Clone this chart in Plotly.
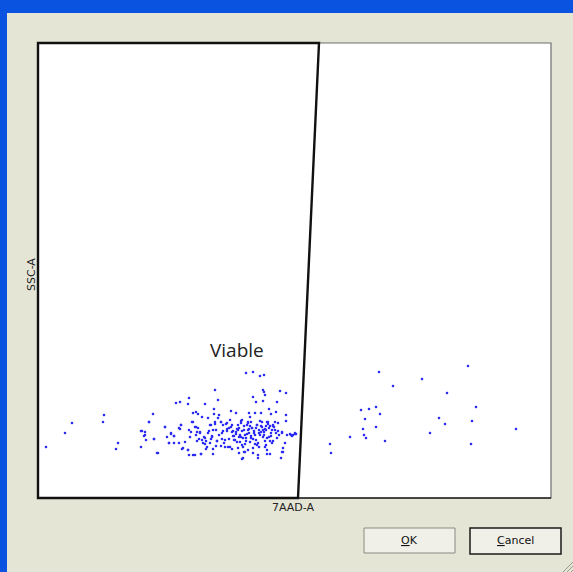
import plotly.graph_objects as go

# ---- data (in instrument display channels) ----
aad_viable = [46, 65, 72, 104, 103, 118, 116, 141, 145, 144, 146, 141, 149, 153, 154, 158, 165, 167, 169, 171,
              174, 174, 176, 180, 180, 181, 179, 182, 185, 188, 189, 188, 189, 191, 192, 193, 196, 196, 196, 197,
              195, 198, 200, 201, 202, 204, 205, 205, 206, 208, 209, 210, 211, 212, 213, 213, 215, 214, 214, 215,
              216, 217, 218, 219, 219, 221, 221, 222, 223, 225, 225, 227, 227, 229, 230, 231, 232, 232, 233, 234,
              236, 237, 238, 238, 239, 241, 241, 242, 242, 243, 244, 245, 246, 246, 247, 248, 248, 249, 250, 251,
              251, 252, 253, 253, 253, 254, 255, 256, 256, 257, 258, 259, 260, 260, 261, 262, 263, 263, 263, 264,
              264, 265, 265, 266, 267, 267, 268, 269, 269, 270, 271, 272, 273, 275, 276, 277, 278, 278, 280, 281,
              282, 283, 285, 286, 286, 287, 291, 295, 292, 295, 296,
              221, 223, 226, 227, 230, 232, 233, 235, 237, 238, 240, 242, 242, 244, 246, 248, 249, 250, 252, 253,
              255, 257, 258, 259, 261, 263, 264, 265, 267, 267, 269, 271, 272, 273, 275, 277, 279, 282, 283, 290,
              293, 286, 222, 228, 239, 245, 258, 270, 243, 282,
              149, 142, 145, 154, 165, 171, 174, 169, 157, 179, 181, 189, 193, 195, 197, 198, 200, 190, 188, 193,
              202, 203, 205, 207, 208, 210, 212, 213, 215, 217, 218, 183, 201,
              236, 239, 241, 244, 247, 249, 251, 254, 256, 259, 262, 264, 266, 268, 271, 274, 276, 234, 240, 245,
              250, 253, 257, 261, 265, 270, 273, 231, 236, 243, 248, 255, 260, 266, 224, 229, 211, 206, 216, 199]
ssc_viable = [447, 433, 423, 415, 422, 443, 449, 431, 432, 436, 440, 447, 422, 414, 439, 453, 427, 437, 443, 434,
              436, 443, 403, 402, 429, 425, 443, 449, 442, 404, 398, 450, 455, 432, 422, 413, 412, 427, 435, 441,
              455, 414, 432, 454, 417, 437, 404, 444, 449, 418, 431, 443, 425, 436, 454, 449, 390, 409, 414, 424,
              430, 441, 400, 415, 435, 422, 446, 433, 425, 447, 440, 423, 431, 439, 447, 411, 449, 425, 431, 436,
              413, 442, 448, 430, 437, 423, 421, 459, 431, 447, 452, 435, 373, 441, 425, 430, 450, 413, 417, 438,
              422, 428, 372, 397, 453, 433, 413, 402, 440, 425, 458, 447, 435, 376, 413, 422, 390, 401, 430, 375,
              392, 395, 441, 426, 450, 454, 422, 409, 437, 426, 414, 430, 441, 422, 412, 402, 431, 423, 391, 458,
              433, 452, 443, 393, 415, 435, 435, 434, 436, 433, 434,
              422, 431, 424, 429, 420, 432, 436, 440, 429, 425, 435, 420, 445, 430, 438, 423, 433, 442, 428, 448,
              435, 425, 443, 430, 426, 437, 432, 447, 422, 438, 428, 433, 443, 425, 430, 438, 435, 432, 448, 434,
              435, 421, 439, 447, 453, 452, 455, 454, 458, 452,
              422, 431, 435, 439, 427, 433, 436, 443, 453, 428, 425, 430, 422, 427, 432, 428, 433, 437, 450, 455,
              440, 443, 438, 447, 433, 425, 437, 430, 422, 441, 418, 448, 454,
              432, 428, 437, 426, 434, 429, 436, 431, 428, 433, 427, 435, 430, 424, 436, 427, 433, 440, 442, 444,
              426, 439, 445, 432, 429, 441, 426, 427, 434, 438, 422, 444, 421, 445, 443, 428, 439, 441, 446, 439]

aad_dead = [379, 422, 468, 393, 447, 361, 369, 376, 380, 365, 476, 439, 445, 472, 363, 376, 516, 430, 350, 364,
            366, 385, 330, 471, 331]
ssc_dead = [372, 379, 366, 386, 393, 410, 409, 407, 414, 419, 407, 418, 424, 421, 429, 427, 429, 433, 437, 435,
            438, 441, 444, 444, 453]

# gate vertices (7AAD-A, SSC-A)
gate_x = [38, 319, 298, 38]
gate_y = [43, 43, 498, 498]

gate_name = "Viable"
x_label = "7AAD-A"
y_label = "SSC-A"

# ---- figure ----
W, H = 573, 572
ML, MR, MT, MB = 38, 22, 43, 74
XR = [38, 551]
YR = [498, 43]


def px(x):
    return (x - ML) / (W - ML - MR)


def py(y):
    return (H - MB - y) / (H - MT - MB)


def dx(v):
    return (v - XR[0]) / (XR[1] - XR[0])


def dy(v):
    return (v - YR[0]) / (YR[1] - YR[0])


fig = go.Figure()
fig.add_trace(go.Scatter(x=aad_viable + aad_dead, y=ssc_viable + ssc_dead, mode="markers",
                         marker=dict(symbol="square", size=2.3, color="#2b2bf5", line=dict(width=0)),
                         hoverinfo="skip", showlegend=False))

shapes = []
# window chrome
shapes.append(dict(type="rect", xref="paper", yref="paper", x0=px(0), x1=px(W), y0=py(0), y1=py(13),
                   fillcolor="#0a52e0", line=dict(width=0), layer="below"))
shapes.append(dict(type="rect", xref="paper", yref="paper", x0=px(0), x1=px(7), y0=py(0), y1=py(H),
                   fillcolor="#0a52e0", line=dict(width=0), layer="below"))
# plot frame
shapes.append(dict(type="rect", xref="paper", yref="paper", x0=0, x1=1, y0=0, y1=1,
                   line=dict(color="#6e6e6e", width=1.2), fillcolor="rgba(0,0,0,0)"))
shapes.append(dict(type="line", xref="paper", yref="paper", x0=dx(298), x1=1, y0=0, y1=0,
                   line=dict(color="#222222", width=1.4)))
# gate polygon
path = "M " + " L ".join(f"{dx(a):.5f},{dy(b):.5f}" for a, b in zip(gate_x, gate_y)) + " Z"
shapes.append(dict(type="path", xref="paper", yref="paper", path=path,
                   line=dict(color="#111111", width=2.4)))
# buttons
shapes.append(dict(type="rect", xref="paper", yref="paper", x0=px(364), x1=px(455), y0=py(553), y1=py(528),
                   fillcolor="#f0f0e8", line=dict(color="#8a8a84", width=1)))
shapes.append(dict(type="rect", xref="paper", yref="paper", x0=px(470), x1=px(561), y0=py(554), y1=py(528),
                   fillcolor="#f0f0e8", line=dict(color="#1a1a1a", width=1.5)))
# resize grip
for k in (2, 6, 10):
    shapes.append(dict(type="line", xref="paper", yref="paper", x0=px(573), y0=py(572 - k),
                       x1=px(573 - k), y1=py(572), line=dict(color="#9a9a8c", width=1)))

annotations = [
    dict(text=gate_name, x=px(237), y=py(350), xref="paper", yref="paper", showarrow=False,
         font=dict(family="Open Sans", size=19, color="#222222"), xanchor="center", yanchor="middle"),
    dict(text=x_label, x=px(293), y=py(508), xref="paper", yref="paper", showarrow=False,
         font=dict(family="DejaVu Sans", size=11, color="#222222"), xanchor="center", yanchor="middle"),
    dict(text=y_label, x=px(31), y=py(275), xref="paper", yref="paper", showarrow=False, textangle=-90,
         font=dict(family="DejaVu Sans", size=11, color="#222222"), xanchor="center", yanchor="middle"),
    dict(text="<u>O</u>K", x=px(409), y=py(540), xref="paper", yref="paper", showarrow=False,
         font=dict(family="DejaVu Sans", size=11, color="#111111"), xanchor="center", yanchor="middle"),
    dict(text="<u>C</u>ancel", x=px(515), y=py(540), xref="paper", yref="paper", showarrow=False,
         font=dict(family="DejaVu Sans", size=11, color="#111111"), xanchor="center", yanchor="middle"),
]

fig.update_layout(
    width=W, height=H,
    margin=dict(l=ML, r=MR, t=MT, b=MB, pad=0),
    paper_bgcolor="#e5e5d6", plot_bgcolor="#ffffff",
    xaxis=dict(range=XR, visible=False, fixedrange=True),
    yaxis=dict(range=YR, visible=False, fixedrange=True),
    shapes=shapes, annotations=annotations, showlegend=False,
)
fig.write_html("out.html", config={"displayModeBar": False},
               post_script="document.body.style.margin='0';document.body.style.overflow='hidden';")
